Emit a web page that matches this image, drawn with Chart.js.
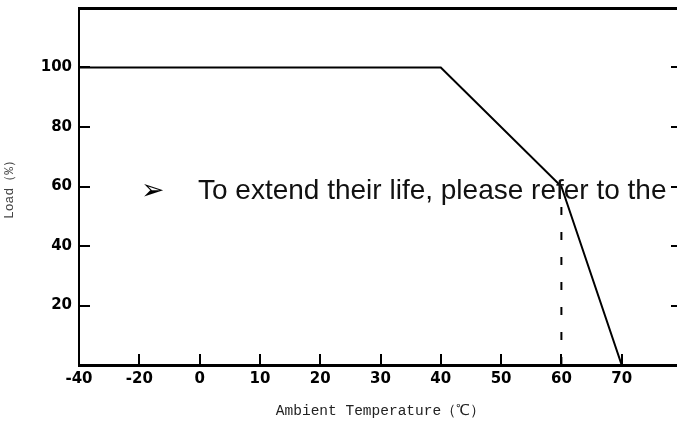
<!DOCTYPE html>
<html>
<head>
<meta charset="utf-8">
<script src="https://cdn.jsdelivr.net/npm/chart.js@4.4.1/dist/chart.umd.min.js"></script>
<style>
  html, body { margin: 0; padding: 0; background: #fff; }
  #wrap { position: relative; width: 677px; height: 427px; overflow: hidden; }
  #note { position: absolute; left: 0; top: 0; width: 677px; height: 427px; pointer-events: none; }
  #arrow { position: absolute; left: 141px; top: 176px; font: 28px 'DejaVu Sans'; line-height: 28px; color: #000; }
  #text { position: absolute; left: 198px; top: 176px; font: 28px 'Liberation Sans', Arial, sans-serif; line-height: 28px; color: #111; white-space: nowrap; }
</style>
</head>
<body>
<div id="wrap">
  <canvas id="chart" width="700" height="427"></canvas>
  <div id="note">
    <span id="arrow">➢</span>
    <span id="text">To extend their life, please refer to the</span>
  </div>
</div>
<script>
// =========================================
// DATOS
// =========================================
const tempLabels = ['-40','-20','0','10','20','30','40','50','60','70','80'];
const curveTemps = ['-40','40','60','70'];
const curveLoads = [100, 100, 60, 0];
const markTemps  = ['60','60'];
const markLoads  = [0, 55];
const loadTicks  = [20, 40, 60, 80, 100];

const tickFont  = { family: 'DejaVu Sans', weight: 'bold', size: 15 };
const titleFont = { family: 'Liberation Mono', size: 14.5 };

// =========================================
// TICKS HACIA DENTRO
// =========================================
const inwardTicks = {
  id: 'inwardTicks',
  afterDatasetsDraw(chart){
    const { ctx, chartArea: a, scales: { x, y } } = chart;
    ctx.save();
    ctx.strokeStyle = '#000';
    ctx.lineWidth = 2;
    ctx.beginPath();
    loadTicks.forEach(v => {
      const py = Math.round(y.getPixelForValue(v));
      ctx.moveTo(a.left, py);  ctx.lineTo(a.left + 11, py);
      ctx.moveTo(a.right, py); ctx.lineTo(a.right - 11, py);
    });
    tempLabels.forEach((l, i) => {
      if (i === 0) return;
      const px = Math.round(x.getPixelForValue(i));
      ctx.moveTo(px, a.bottom); ctx.lineTo(px, a.bottom - 11);
    });
    ctx.stroke();
    ctx.restore();
  }
};

// sin relleno extra por las etiquetas
function noPad(s){
  s.paddingTop = 0; s.paddingBottom = 0;
  s.paddingLeft = 0; s.paddingRight = 0;
}

const curve = curveTemps.map((t, i) => ({ x: t, y: curveLoads[i] }));
const mark  = markTemps.map((t, i) => ({ x: t, y: markLoads[i] }));

new Chart(document.getElementById('chart'), {

  type: 'line',

  data: {
    labels: tempLabels,
    datasets: [
      {
        data: curve,
        borderColor: '#000',
        borderWidth: 2,
        pointRadius: 0,
        tension: 0
      },
      {
        data: mark,
        borderColor: '#000',
        borderWidth: 2,
        borderDash: [8, 17],
        pointRadius: 0,
        tension: 0
      }
    ]
  },

  options: {
    responsive: false,
    animation: false,
    layout: { padding: 0 },
    plugins: { legend: { display: false }, tooltip: { enabled: false } },
    scales: {
      x: {
        type: 'category',
        position: 'bottom',
        grid: { display: true, drawOnChartArea: false, drawTicks: false },
        border: { display: true, color: '#000', width: 3 },
        ticks: {
          color: '#000',
          font: tickFont,
          padding: 5,
          maxRotation: 0,
          autoSkip: false,
          callback: (v, i) => i === tempLabels.length - 1 ? '' : tempLabels[i]
        },
        title: {
          display: true,
          text: 'Ambient Temperature（℃）',
          color: '#222',
          font: titleFont,
          padding: { top: 0, bottom: 7 }
        },
        afterFit: s => { s.height = 62; noPad(s); }
      },
      x2: {
        type: 'linear',
        position: 'top',
        min: 0, max: 1,
        grid: { display: true, drawOnChartArea: false, drawTicks: false },
        border: { display: true, color: '#000', width: 3 },
        ticks: { display: false },
        afterFit: s => { s.height = 8; noPad(s); }
      },
      y: {
        type: 'linear',
        position: 'left',
        min: 0,
        max: 120,
        grid: { display: true, drawOnChartArea: false, drawTicks: false },
        border: { display: true, color: '#000', width: 2 },
        ticks: {
          stepSize: 20,
          color: '#000',
          font: tickFont,
          padding: 7,
          callback: v => loadTicks.includes(v) ? v : ''
        },
        title: {
          display: true,
          text: 'Load（%）',
          color: '#444',
          font: { family: 'Liberation Mono', size: 13 },
          padding: { top: 2, bottom: 0 }
        },
        afterFit: s => { s.width = 79; noPad(s); }
      },
      y2: {
        type: 'linear',
        position: 'right',
        min: 0, max: 120,
        grid: { display: true, drawOnChartArea: false, drawTicks: false },
        border: { display: true, color: '#000', width: 2 },
        ticks: { display: false },
        afterFit: s => { s.width = 18; noPad(s); }
      }
    }
  },

  plugins: [inwardTicks]

});
</script>
</body>
</html>
